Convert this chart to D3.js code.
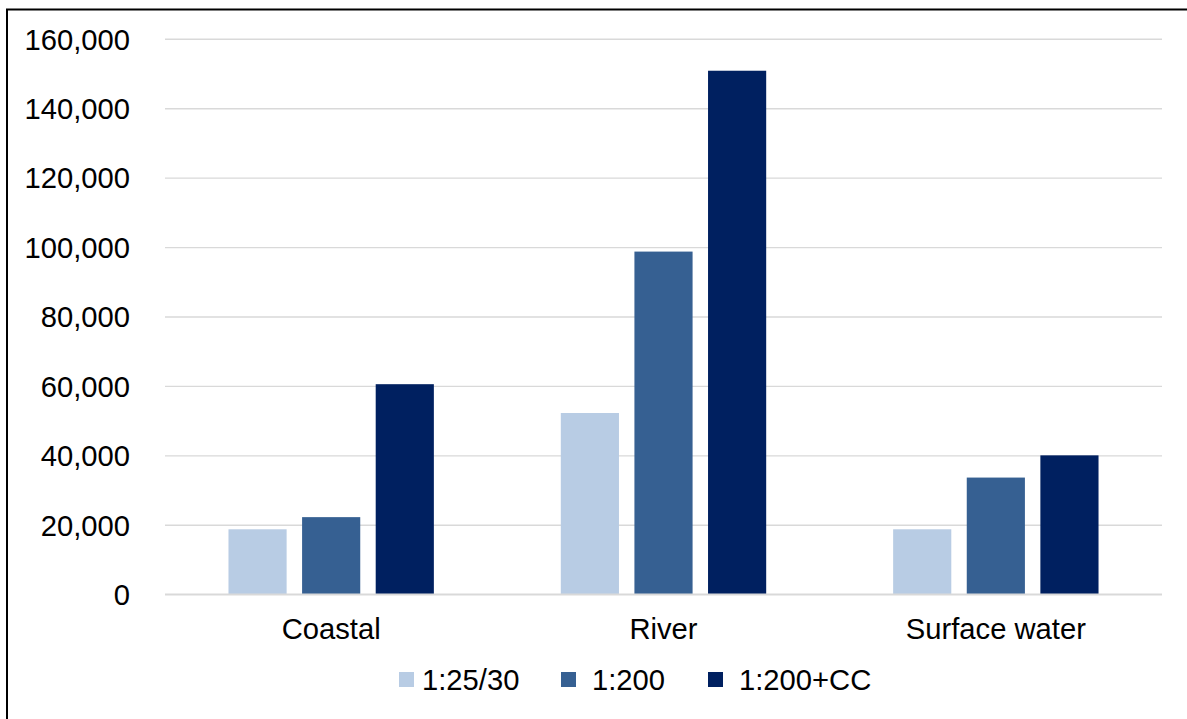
<!DOCTYPE html>
<html>
<head>
<meta charset="utf-8">
<script src="https://cdn.jsdelivr.net/npm/d3@7"></script>
<style>
  html, body { margin: 0; padding: 0; background: #fff; }
  svg { display: block; font-family: "Liberation Sans", Arial, sans-serif; }
</style>
</head>
<body>
<svg id="chart" width="1187" height="719"></svg>
<script>
// Flooded property counts by source and return period
const categories = ["Coastal", "River", "Surface water"];
const seriesNames = ["1:25/30", "1:200", "1:200+CC"];
const seriesColors = ["#B8CCE4", "#366092", "#002060"];
const values1in25 = [18700, 52200, 18700];
const values1in200 = [22200, 98700, 33600];
const values1in200cc = [60500, 150800, 40000];
const yTicks = [0, 20000, 40000, 60000, 80000, 100000, 120000, 140000, 160000];

const seriesValues = [values1in25, values1in200, values1in200cc];

const width = 1187, height = 719;
const plot = { left: 165, right: 1162, top: 38.8, bottom: 594.2 };
const fontSize = 29.2;

const svg = d3.select("#chart");

// outer frame (extends past the right and bottom edges)
svg.append("rect")
  .attr("x", 7).attr("y", 9.5)
  .attr("width", 1300).attr("height", 800)
  .attr("fill", "none").attr("stroke", "#000").attr("stroke-width", 2);

const y = d3.scaleLinear().domain([0, 160000]).range([plot.bottom, plot.top]);
const x0 = d3.scaleBand().domain(categories).range([plot.left, plot.right]).paddingInner(0.382).paddingOuter(0.191);
const x1 = d3.scaleBand().domain(seriesNames).range([0, x0.bandwidth()]).paddingInner(0.21);

// gridlines and value labels
const yAxis = d3.axisLeft(y).tickValues(yTicks).tickSize(-(plot.right - plot.left)).tickPadding(35)
  .tickFormat(d3.format(","));
const gy = svg.append("g").attr("transform", `translate(${plot.left},0)`).call(yAxis);
gy.select(".domain").remove();
gy.selectAll(".tick line").attr("stroke", "#D9D9D9").attr("stroke-width", 1.4);
gy.selectAll(".tick text").attr("font-size", fontSize).attr("fill", "#000")
  .attr("font-family", "Liberation Sans, Arial, sans-serif").attr("dy", "0.35em");

// bars
const groups = svg.append("g").selectAll("g")
  .data(categories)
  .join("g")
  .attr("transform", d => `translate(${x0(d)},0)`);

groups.selectAll("rect")
  .data((c, ci) => seriesNames.map((s, si) => ({ s, si, v: seriesValues[si][ci] })))
  .join("rect")
  .attr("x", d => x1(d.s))
  .attr("y", d => y(d.v))
  .attr("width", x1.bandwidth())
  .attr("height", d => y(0) - y(d.v))
  .attr("fill", d => seriesColors[d.si]);

// category labels
const xAxis = d3.axisBottom(x0).tickSize(0).tickPadding(0);
const gx = svg.append("g").attr("transform", `translate(0,${plot.bottom})`).call(xAxis);
gx.select(".domain").remove();
gx.selectAll(".tick text").attr("font-size", fontSize).attr("fill", "#000")
  .attr("font-family", "Liberation Sans, Arial, sans-serif")
  .attr("dy", null).attr("y", 45);

// baseline
svg.append("line")
  .attr("x1", plot.left).attr("x2", plot.right)
  .attr("y1", y(0)).attr("y2", y(0))
  .attr("stroke", "#D9D9D9").attr("stroke-width", 1.6);

// legend
const legendX = [399, 561, 708];
const legendTextGap = [23, 31, 31];
const legend = svg.append("g");
seriesNames.forEach((name, i) => {
  legend.append("rect")
    .attr("x", legendX[i]).attr("y", 672)
    .attr("width", 15).attr("height", 15)
    .attr("fill", seriesColors[i]);
  legend.append("text")
    .attr("x", legendX[i] + legendTextGap[i]).attr("y", 690)
    .attr("font-size", fontSize).attr("fill", "#000")
    .text(name);
});
</script>
</body>
</html>
